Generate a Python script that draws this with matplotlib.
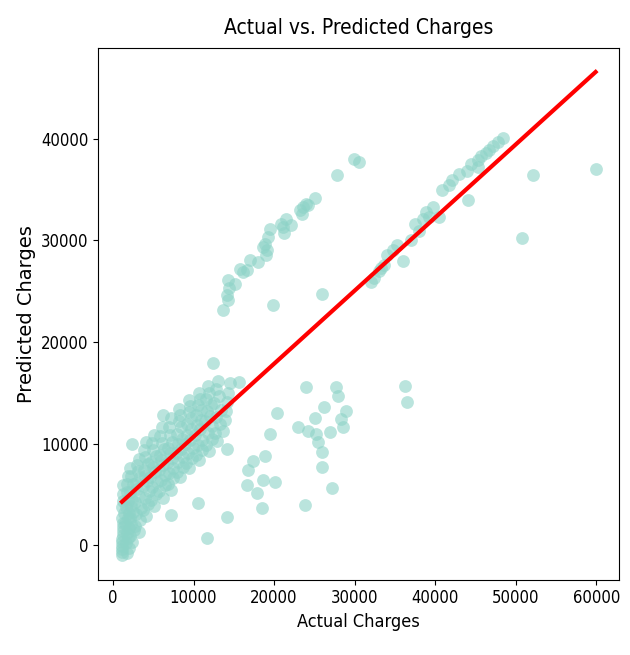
import numpy as np
import matplotlib
matplotlib.use("Agg")
import matplotlib.pyplot as plt

# ---- data (actual charges, predicted charges) ----
# dense non-smoker cluster
cluster_actual = [
    1121, 1131, 1137, 1146, 1149, 1163, 1241, 1242, 1252, 1260, 1135, 1391, 1150, 1300, 1212, 1256,
    1748, 1980, 1615, 1906, 1705, 2020, 1532, 1837, 1964, 1632, 1880, 1725, 1694, 1826,
    2395, 2138, 2585, 2254, 2103, 2457, 2205, 2350, 2166, 2497, 2302, 2150, 2366,
    3180, 2755, 3410, 2899, 3490, 2709, 3260, 3021, 2850, 3357, 3070, 2950, 3205,
    4150, 3756, 4410, 3925, 4500, 3704, 4243, 4005, 3800, 4320, 4040, 3866, 4100,
    5150, 4720, 5400, 4906, 5480, 4646, 5240, 4950, 4700, 5300, 5000, 4830, 5080,
    6180, 5760, 6400, 5920, 6500, 5700, 6250, 6000, 5800, 6330, 6080, 5850, 6100, 6227,
    7200, 6790, 7450, 6950, 7500, 6700, 7300, 7050, 6850, 7380, 7120, 6900, 7250, 7223,
    8300, 7900, 8650, 8100, 8700, 7800, 8400, 8050, 8600, 7990, 8500, 8150, 8350, 8200,
    9500, 9100, 9800, 9300, 9900, 9000, 9600, 9200, 9750, 9150, 9700, 9400, 9550, 9450,
    10700, 10300, 11000, 10500, 11100, 10200, 10800, 10400, 10950, 10350, 10900, 10600, 10750, 10650, 10585,
    11950, 11500, 12250, 11750, 12350, 11400, 12050, 11650, 12150, 11600, 11900, 11850, 11706, 12453,
    12950, 12700, 13300, 12850, 13450, 12600, 13150, 12800, 13050,
    13700, 13850, 14000, 14150, 14300, 14550, 15691, 14197,
]
cluster_pred = [
    -1000, -700, -400, -100, 300, 600, 1000, 1400, 1800, 2200, 2700, 3200, 3800, 4400, 5100, 5900,
    -800, -300, 200, 700, 1200, 1700, 2200, 2700, 3200, 3800, 4400, 5200, 6000, 6800,
    300, 900, 1500, 2100, 2700, 3300, 3900, 4500, 5200, 6000, 6800, 7600, 9950,
    1300, 1900, 2500, 3100, 3700, 4300, 4900, 5500, 6100, 6700, 7300, 7900, 8500,
    2900, 3500, 4100, 4700, 5300, 5800, 6300, 6800, 7400, 8000, 8700, 9400, 10200,
    3900, 4500, 5100, 5700, 6200, 6700, 7200, 7700, 8200, 8800, 9400, 10100, 10900,
    4700, 5300, 5900, 6400, 6900, 7400, 7900, 8400, 8900, 9500, 10100, 10800, 11600, 12836,
    5400, 6000, 6600, 7100, 7600, 8100, 8600, 9100, 9600, 10200, 10900, 11600, 12500, 2985,
    6700, 7200, 7700, 8200, 8700, 9100, 9500, 10000, 10500, 11000, 11600, 12200, 12800, 13400,
    7600, 8100, 8600, 9100, 9600, 10000, 10400, 10900, 11400, 11900, 12500, 13100, 13700, 14300,
    8400, 8900, 9400, 9900, 10400, 10900, 11400, 11800, 12300, 12800, 13300, 13800, 14400, 15000, 4179,
    9300, 9900, 10500, 11100, 11700, 12200, 12700, 13200, 13800, 14400, 15000, 15700, 697, 17910,
    10300, 11100, 11900, 12600, 13300, 14000, 14700, 15400, 16200,
    11300, 12300, 13200, 14100, 15000, 16000, 16119, 9453,
]

# smokers predicted high (upper band)
upper_actual = [
    29888, 30511, 27771, 25031, 23910, 23537, 23163, 23412, 24159, 22042, 21420,
    21046, 21171, 20797, 19552, 19303, 18929, 19178, 18680, 19054, 18057, 17061,
    16687, 16189, 15816, 15193, 14321, 14446, 14197, 14321, 13699, 19925, 25903,
]
upper_pred = [
    38009, 37711, 36417, 34228, 33631, 33333, 33034, 32636, 33532, 31542, 32139,
    31343, 30746, 31641, 31144, 30348, 29651, 29054, 29353, 28557, 27861, 28060,
    27064, 26865, 27164, 25672, 26070, 25373, 24676, 24179, 23184, 23681, 24776,
]

# under-predicted points (lower scatter)
lower_actual = [
    23910, 27646, 27895, 26152, 28892, 20423, 28269, 28518, 25031, 22914, 24159,
    25156, 26899, 25405, 19552, 25903, 25903, 27148, 18929, 17435, 16812, 18680,
    20174, 16687, 17933, 18555, 23786, 14197, 36239, 36488,
]
lower_pred = [
    15622, 15622, 14726, 13632, 13234, 13035, 12438, 11642, 12537, 11642, 11244,
    10945, 11144, 10149, 10945, 9154, 7662, 5672, 8756, 8259, 7463, 6468,
    6269, 5970, 5174, 3682, 3980, 2786, 15721, 14129,
]

# high-charge band along the diagonal plus far-right points
right_actual = [
    48430, 47808, 47185, 46687, 46314, 45691, 45318, 45318, 43950, 44075, 42081,
    41707, 40837, 40463, 39716, 39218, 38471, 37475, 37973, 36977, 35981, 35234,
    33989, 33615, 32993, 32370, 31996, 33241, 34735, 38844, 42952, 44447,
    52179, 59900, 50809,
]
right_pred = [
    40100, 39700, 39300, 38900, 38600, 38300, 37900, 37200, 36800, 34000, 36000,
    35500, 35000, 32300, 33300, 32300, 32100, 31600, 30900, 30000, 28000, 29600,
    28600, 27600, 27000, 26300, 25900, 27300, 29100, 32800, 36500, 37500,
    36417, 37015, 30248,
]

actual = np.array(cluster_actual + upper_actual + lower_actual + right_actual, dtype=float)
predicted = np.array(cluster_pred + upper_pred + lower_pred + right_pred, dtype=float)

fig = plt.figure(figsize=(6.3, 6.55), dpi=100)
ax = fig.add_axes([0.156, 0.115, 0.827, 0.812])

ax.scatter(actual, predicted, s=85, color="#8dd3c7", alpha=0.6, linewidths=0)

# regression line (like seaborn regplot, truncated to data range)
slope, intercept = np.polyfit(actual, predicted, 1)
xs = np.array([actual.min(), actual.max()])
ax.plot(xs, slope * xs + intercept, color="red", linewidth=3)

cond = dict(family="DejaVu Sans", stretch="condensed")
ax.set_xticks([0, 10000, 20000, 30000, 40000, 50000, 60000])
ax.set_yticks([0, 10000, 20000, 30000, 40000])
for lab in ax.get_xticklabels() + ax.get_yticklabels():
    lab.set_fontsize(12)
    lab.set_fontstretch("condensed")
ax.set_title("Actual vs. Predicted Charges", fontsize=15, pad=10, **cond)
ax.set_xlabel("Actual Charges", fontsize=13, **cond)
ax.set_ylabel("Predicted Charges", fontsize=14)

fig.savefig("out.png", dpi=100)
